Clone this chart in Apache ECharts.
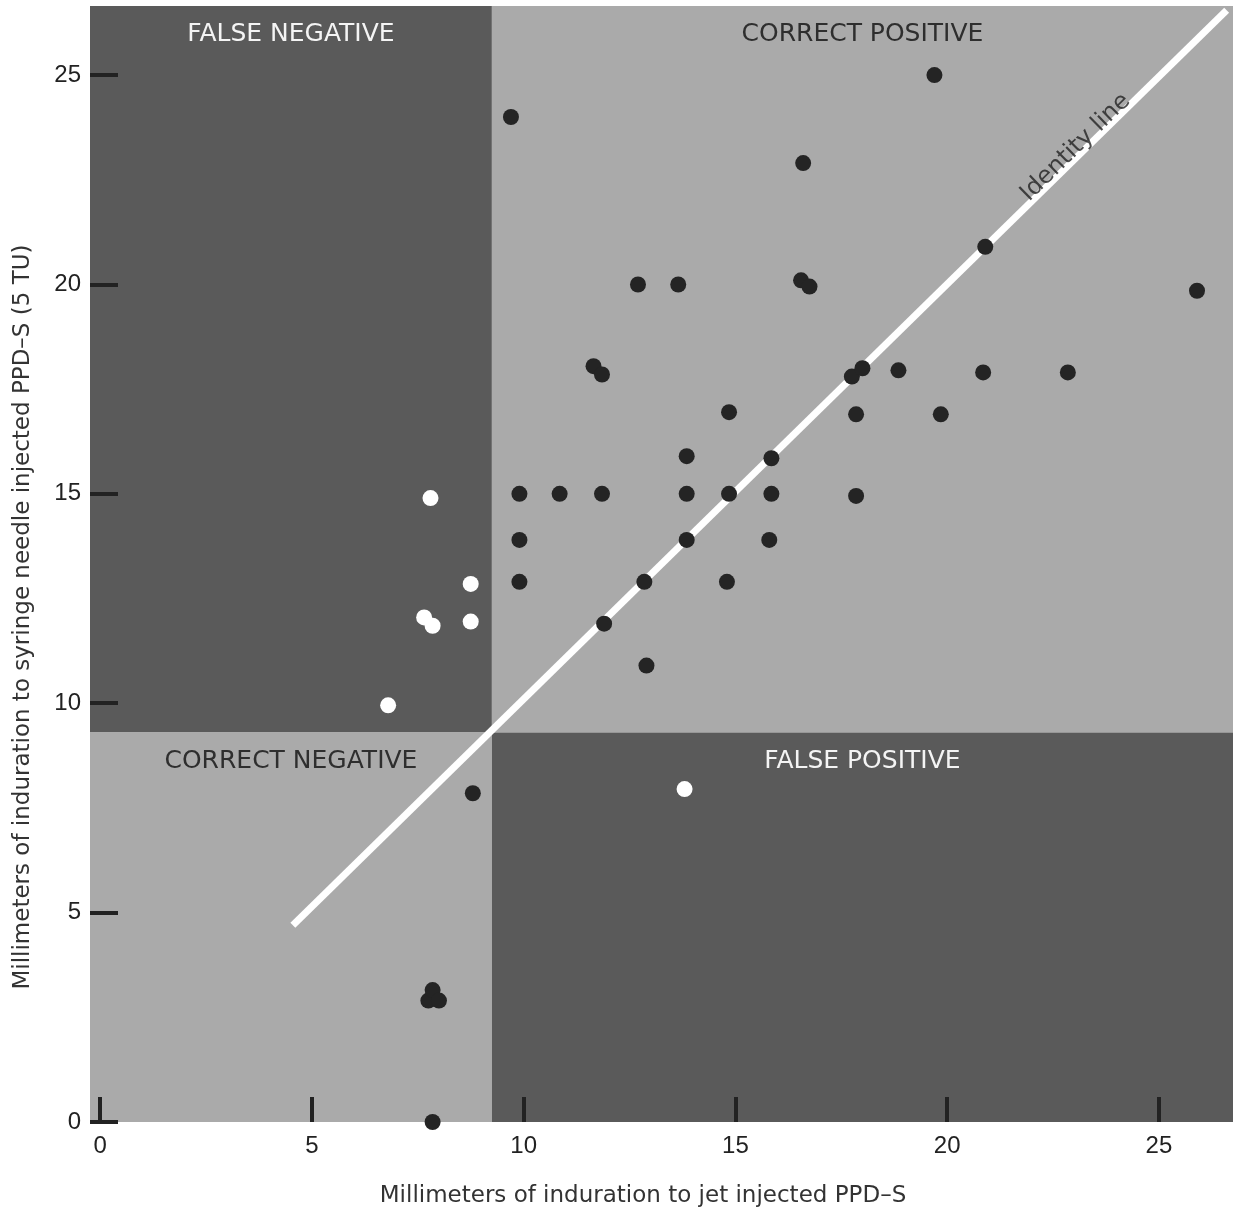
<!DOCTYPE html>
<html><head><meta charset="utf-8">
<script src="https://cdn.jsdelivr.net/npm/echarts@6/dist/echarts.min.js"></script>
<style>html,body{margin:0;padding:0;background:#fff}#c{width:1237px;height:1210px}</style>
</head><body><div id="c"></div>
<script>
// ---- data ----
const tickValues = [0, 5, 10, 15, 20, 25];

// correct positives / correct negatives (black dots)
const blackX = [19.7, 9.7, 16.6, 20.9, 25.9, 12.7, 13.65, 16.55, 16.75, 11.65, 11.85, 17.75, 18.0, 18.85, 20.85, 22.85,
  14.85, 17.85, 19.85, 13.85, 15.85, 9.9, 10.85, 11.85, 13.85, 14.85, 15.85, 17.85, 9.9, 13.85, 15.8, 9.9, 12.85, 14.8,
  11.9, 12.9, 8.8, 7.75, 7.85, 8.0, 7.85];
const blackY = [25.0, 24.0, 22.9, 20.9, 19.85, 20.0, 20.0, 20.1, 19.95, 18.05, 17.85, 17.8, 18.0, 17.95, 17.9, 17.9,
  16.95, 16.9, 16.9, 15.9, 15.85, 15.0, 15.0, 15.0, 15.0, 15.0, 15.0, 14.95, 13.9, 13.9, 13.9, 12.9, 12.9, 12.9,
  11.9, 10.9, 7.85, 2.9, 3.15, 2.9, 0.0];

// false negatives / false positive (white dots)
const whiteX = [7.8, 8.75, 7.65, 7.85, 8.75, 6.8, 13.8];
const whiteY = [14.9, 12.85, 12.05, 11.85, 11.95, 9.95, 7.95];

// identity line end points
const identityX = [4.55, 26.6];
const identityY = [4.7, 26.55];
const identityLabelAt = [23.3, 23.27];

// quadrant thresholds
const cutX = 9.25;
const cutY = 9.3;

const quadrantNames = ['FALSE NEGATIVE', 'CORRECT POSITIVE', 'CORRECT NEGATIVE', 'FALSE POSITIVE'];
const xTitle = 'Millimeters of induration to jet injected PPD\u2013S';
const yTitle = 'Millimeters of induration to syringe needle injected PPD\u2013S (5 TU)';
const identityLabel = 'Identity line';

// ---- axis ranges ----
const X_MIN = -0.24, X_MAX = 26.75, Y_MIN = 0, Y_MAX = 26.65;

const DARK = '#5a5a5a', LIGHT = '#aaaaaa', INK = '#222222';
const FONT = 'DejaVu Sans';

const chart = echarts.init(document.getElementById('c'), null, {renderer: 'canvas'});

const zip = (xs, ys) => xs.map((x, i) => [x, ys[i]]);

const areaLabel = (color) => ({color: color});

chart.setOption({
  animation: false,
  backgroundColor: '#ffffff',
  grid: {left: 90, right: 4, top: 6, bottom: 88, show: false, containLabel: false, outerBoundsMode: 'none'},
  xAxis: {
    type: 'value', min: X_MIN, max: X_MAX, z: 10,
    axisLine: {show: false, onZero: false},
    splitLine: {show: false},
    axisTick: {show: true, inside: true, length: 25, customValues: tickValues,
      lineStyle: {color: INK, width: 4}},
    axisLabel: {show: true, customValues: tickValues, margin: 12, fontSize: 24,
      color: INK, fontFamily: 'Liberation Sans'},
    name: xTitle, nameLocation: 'middle', nameGap: 63,
    nameTextStyle: {fontSize: 23, color: '#333', fontFamily: FONT, padding: [0, 37, 0, 0]}
  },
  yAxis: {
    type: 'value', min: Y_MIN, max: Y_MAX, z: 10,
    axisLine: {show: false, onZero: false},
    splitLine: {show: false},
    axisTick: {show: true, inside: true, length: 28, customValues: tickValues,
      lineStyle: {color: INK, width: 4}},
    axisLabel: {show: true, customValues: tickValues, margin: 9, fontSize: 24,
      color: INK, fontFamily: 'Liberation Sans'},
    name: yTitle, nameLocation: 'middle', nameGap: 55, nameRotate: 90,
    nameTextStyle: {fontSize: 23, color: '#333', fontFamily: FONT, padding: [0, 106, 0, 0]}
  },
  series: [
    {
      type: 'line', data: [], z: -5, silent: true,
      markArea: {
        silent: true,
        label: {show: true, position: 'insideTop', distance: 16, fontSize: 25, fontFamily: FONT},
        itemStyle: {opacity: 1, borderWidth: 0},
        data: [
          [{name: quadrantNames[0], coord: [X_MIN, cutY], itemStyle: {color: DARK, opacity: 1}, label: areaLabel('#f4f4f4')},
           {coord: [cutX, Y_MAX]}],
          [{name: quadrantNames[1], coord: [cutX, cutY], itemStyle: {color: LIGHT, opacity: 1}, label: areaLabel('#2e2e2e')},
           {coord: [X_MAX, Y_MAX]}],
          [{name: quadrantNames[2], coord: [X_MIN, Y_MIN], itemStyle: {color: LIGHT, opacity: 1}, label: areaLabel('#2e2e2e')},
           {coord: [cutX, cutY]}],
          [{name: quadrantNames[3], coord: [cutX, Y_MIN], itemStyle: {color: DARK, opacity: 1}, label: areaLabel('#f4f4f4')},
           {coord: [X_MAX, cutY]}]
        ]
      }
    },
    {
      type: 'line', z: 2, silent: true,
      data: zip(identityX, identityY),
      symbol: 'none',
      lineStyle: {color: '#ffffff', width: 7, cap: 'butt'}
    },
    {
      type: 'scatter', z: 2, silent: true,
      data: [identityLabelAt],
      symbolSize: 0,
      itemStyle: {color: 'rgba(0,0,0,0)'},
      label: {show: true, position: 'inside', formatter: identityLabel, rotate: 44.4, offset: [-8, -8],
        fontSize: 24, color: INK, fontFamily: FONT}
    },
    {
      type: 'scatter', z: 3, silent: true,
      data: zip(blackX, blackY),
      symbolSize: 16,
      itemStyle: {color: '#242424', opacity: 1}
    },
    {
      type: 'scatter', z: 3, silent: true,
      data: zip(whiteX, whiteY),
      symbolSize: 16,
      itemStyle: {color: '#ffffff', opacity: 1}
    }
  ]
});
</script>
</body></html>
